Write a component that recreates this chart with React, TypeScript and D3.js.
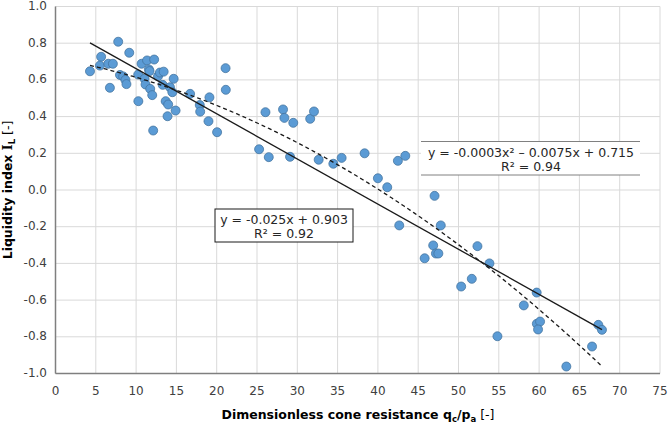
import React from "react";
import * as d3 from "d3";

// dimensionless cone resistance qc/pa
const qcPa = [
  4.28, 5.66, 5.51, 6.55, 7.12, 6.75, 7.78, 8.0, 8.4, 8.68, 8.8, 9.15,
  10.26, 10.28, 10.68, 11.05, 11.17, 11.36, 11.59, 11.67, 11.75, 12.0, 12.12, 12.24,
  12.72, 12.95, 13.42, 13.3, 13.67, 13.98, 13.9, 14.2, 14.5, 14.66, 14.9, 16.7,
  17.9, 17.95, 19.1, 18.98, 20.05, 21.1, 21.13,
  25.26, 26.05, 26.46, 28.23, 28.4, 29.1, 29.5, 31.6, 32.07, 32.65, 34.47, 35.5,
  38.35, 40.0, 41.16, 42.48, 43.4, 47.03,
  42.65, 47.8, 46.86, 47.2, 47.5, 45.8,
  52.35, 53.84, 50.33, 51.65, 54.83, 59.7, 58.1, 59.72, 60.12, 59.87, 63.38, 66.57,
  67.35, 67.8,
];

// liquidity index IL
const liquidityIndex = [
  0.647, 0.726, 0.678, 0.688, 0.688, 0.557, 0.808, 0.627, 0.619, 0.6, 0.577, 0.748,
  0.629, 0.484, 0.688, 0.606, 0.575, 0.706, 0.657, 0.648, 0.551, 0.517, 0.324, 0.711,
  0.62, 0.64, 0.645, 0.573, 0.484, 0.466, 0.402, 0.56, 0.533, 0.606, 0.433, 0.524,
  0.463, 0.427, 0.505, 0.375, 0.315, 0.664, 0.546,
  0.222, 0.424, 0.179, 0.439, 0.393, 0.181, 0.366, 0.388, 0.428, 0.165, 0.143, 0.175,
  0.2, 0.064, 0.015, 0.159, 0.186, -0.032,
  -0.193, -0.193, -0.302, -0.346, -0.346, -0.372,
  -0.306, -0.4, -0.526, -0.484, -0.797, -0.559, -0.629, -0.729, -0.717, -0.76, -0.962, -0.853,
  -0.735, -0.762,
];

// trendlines as drawn (intercept, slope, quadratic term)
const linearFit = [0.907, -0.0246];
const quadFit = [0.717, -0.0078, -0.00025];

const xTicks = d3.range(0, 76, 5);
const yTicks = d3.range(-1, 1.01, 0.2).map((v) => +v.toFixed(1));

const linearLabel = ["y = -0.025x + 0.903", "R² = 0.92"];
const quadLabel = ["y = -0.0003x² – 0.0075x + 0.715", "R² = 0.94"];

const W = 669;
const H = 425;
const margin = { top: 6.5, right: 9, bottom: 51.5, left: 55.5 };
const font = "Verdana, 'DejaVu Sans', sans-serif";

export default function App() {
  const x = d3.scaleLinear().domain([0, 75]).range([margin.left, W - margin.right]);
  const y = d3.scaleLinear().domain([-1, 1]).range([H - margin.bottom, margin.top]);

  const xMin = d3.min(qcPa) as number;
  const xMax = d3.max(qcPa) as number;
  const fitXs = d3.range(xMin, xMax, 0.25).concat([xMax]);

  const line = d3
    .line<number>()
    .x((d) => x(d))
    .y((d) => y(linearFit[0] + linearFit[1] * d));
  const curve = d3
    .line<number>()
    .x((d) => x(d))
    .y((d) => y(quadFit[0] + quadFit[1] * d + quadFit[2] * d * d));

  const points = qcPa.map((v, i) => [v, liquidityIndex[i]]);

  return (
    <svg
      width={W}
      height={H}
      style={{ position: "absolute", left: 0, top: 0, background: "#fff" }}
      fontFamily={font}
    >
      {/* grid */}
      {xTicks.map((t) => (
        <line key={"gx" + t} x1={x(t)} x2={x(t)} y1={y(1)} y2={y(-1)} stroke="#d9d9d9" strokeWidth={1} />
      ))}
      {yTicks.map((t) => (
        <line key={"gy" + t} x1={x(0)} x2={x(75)} y1={y(t)} y2={y(t)} stroke="#d9d9d9" strokeWidth={1} />
      ))}

      {/* axes */}
      <line x1={x(0)} x2={x(0)} y1={y(1)} y2={y(-1)} stroke="#7f7f7f" strokeWidth={1.5} />
      <line x1={x(0)} x2={x(75)} y1={y(-1)} y2={y(-1)} stroke="#7f7f7f" strokeWidth={1.5} />

      {xTicks.map((t) => (
        <text key={"tx" + t} x={x(t)} y={395} textAnchor="middle" fontSize={12} fill="#404040">
          {t}
        </text>
      ))}
      {yTicks.map((t) => (
        <text
          key={"ty" + t}
          x={47}
          y={y(t)}
          textAnchor="end"
          dominantBaseline="middle"
          fontSize={12}
          fill="#404040"
        >
          {t.toFixed(1)}
        </text>
      ))}

      {/* points */}
      {points.map(([px, py], i) => (
        <circle key={i} cx={x(px)} cy={y(py)} r={4.5} fill="#5b9bd5" stroke="#41719c" strokeWidth={0.75} />
      ))}

      {/* trendlines */}
      <path d={line([xMin, xMax]) || ""} fill="none" stroke="#1a1a1a" strokeWidth={1.3} />
      <path d={curve(fitXs) || ""} fill="none" stroke="#1a1a1a" strokeWidth={1.3} strokeDasharray="4 3" />

      {/* linear label */}
      <rect x={215} y={209} width={138} height={33} fill="#fff" stroke="#1a1a1a" strokeWidth={1} />
      <text x={284} y={224} textAnchor="middle" fontSize={12.5} fill="#262626">
        {linearLabel[0]}
      </text>
      <text x={284} y={238} textAnchor="middle" fontSize={12.5} fill="#262626">
        {linearLabel[1]}
      </text>

      {/* quadratic label */}
      <rect x={421} y={142} width={219} height={33} fill="#fff" />
      <line x1={421} x2={640} y1={141.5} y2={141.5} stroke="#808080" strokeWidth={1} />
      <line x1={421} x2={640} y1={175} y2={175} stroke="#808080" strokeWidth={1} />
      <text x={531} y={157} textAnchor="middle" fontSize={12.5} fill="#262626">
        {quadLabel[0]}
      </text>
      <text x={531} y={171} textAnchor="middle" fontSize={12.5} fill="#262626">
        {quadLabel[1]}
      </text>

      {/* axis titles */}
      <text x={358} y={419} textAnchor="middle" fontSize={12.5} fontWeight="bold" fill="#000">
        Dimensionless cone resistance q
        <tspan fontSize={8.5} dy={3}>c</tspan>
        <tspan dy={-3}>/p</tspan>
        <tspan fontSize={8.5} dy={3}>a</tspan>
        <tspan dy={-3} fontWeight="normal"> [-]</tspan>
      </text>
      <text
        transform={`translate(12, ${(y(1) + y(-1)) / 2}) rotate(-90)`}
        textAnchor="middle"
        fontSize={12.5}
        fontWeight="bold"
        fill="#000"
      >
        Liquidity index{" "}
        <tspan fontFamily="'DejaVu Serif', serif">I</tspan>
        <tspan fontSize={8.5} dy={3}>L</tspan>
        <tspan dy={-3} fontWeight="normal"> [-]</tspan>
      </text>
    </svg>
  );
}
